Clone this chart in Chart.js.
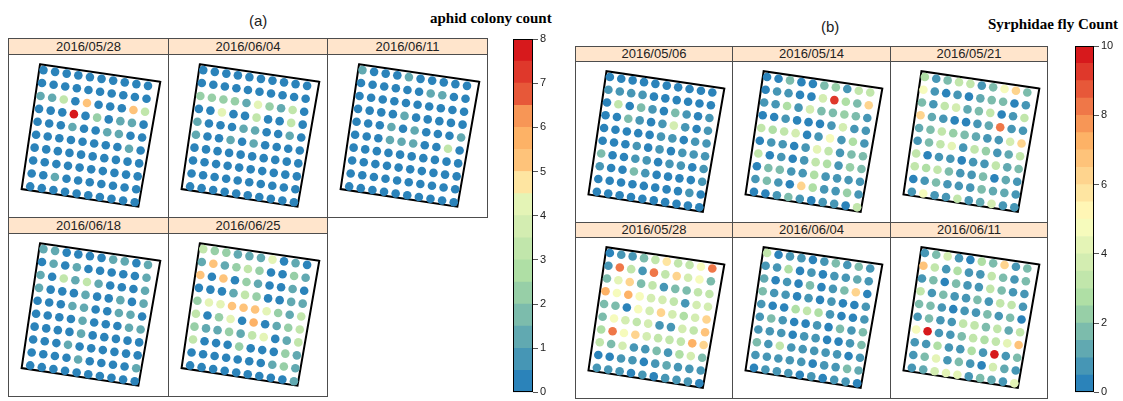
<!DOCTYPE html>
<html>
<head>
<meta charset="utf-8">
<script src="https://cdn.jsdelivr.net/npm/chart.js@4.4.0/dist/chart.umd.min.js"></script>
<style>
  body { margin: 0; background: #fff; width: 1123px; height: 401px; overflow: hidden; position: relative; font-family: "Liberation Sans", Arial, sans-serif; }
  canvas { position: absolute; }
  .box { position: absolute; border: 1px solid #4d4d4d; box-sizing: border-box; pointer-events: none; z-index: 2; }
  .strip { position: absolute; background: #ffe5cc; border: 1px solid #4d4d4d; box-sizing: border-box; text-align: center; font-size: 13px; color: #222; z-index: 3; }
  .title { position: absolute; font-size: 15px; color: #222; white-space: nowrap; }
  .keytitle { position: absolute; font: bold 15px "Liberation Serif", "Times New Roman", serif; color: #000; white-space: nowrap; }
</style>
</head>
<body>
<div class="title" style="left:249px; top:12px;">(a)</div>
<div class="keytitle" style="left:430px; top:10px;">aphid colony count</div>
<div class="title" style="left:821px; top:18px;">(b)</div>
<div class="keytitle" style="left:988px; top:16px;">Syrphidae fly Count</div>

<script>
// ---- data ----
const aphidDates = ["2016/05/28", "2016/06/04", "2016/06/11", "2016/06/18", "2016/06/25"];
const flyDates = ["2016/05/06", "2016/05/14", "2016/05/21", "2016/05/28", "2016/06/04", "2016/06/11"];

const aphidTicks = [0, 1, 2, 3, 4, 5, 6, 7, 8];
const flyTicks = [0, 2, 4, 6, 8, 10];

// rows top to bottom, 10 trap positions per row
const aphid0528 = [
  [0,0,0,0,0,0,0,0,0,0],
  [0,0,0,0,0,0,0,0,0,0],
  [1,1,3,0,5,0,0,0,5,3],
  [0,0,0,8,0,2,0,1,1,0],
  [0,0,0,1,0,0,1,1,0,0],
  [0,0,0,0,0,0,0,0,1,0],
  [0,0,0,0,0,0,0,0,0,0],
  [0,0,0,0,0,0,0,0,0,0],
  [0,0,1,0,0,0,0,0,0,0],
  [0,0,0,0,0,0,0,0,0,0]
];
const aphid0604 = [
  [0,0,0,0,0,0,0,0,0,0],
  [0,0,0,0,0,0,0,0,0,0],
  [2,2,2,2,1,4,2,1,3,0],
  [0,0,4,0,0,3,0,0,3,0],
  [1,0,0,0,1,1,0,0,1,0],
  [1,0,0,1,0,1,0,0,0,0],
  [0,0,0,0,0,0,0,0,0,0],
  [0,0,0,0,0,0,0,0,0,0],
  [0,0,0,0,0,0,0,0,0,0],
  [0,0,0,0,0,0,0,0,0,0]
];
const aphid0611 = [
  [1,0,0,0,1,0,0,0,0,0],
  [0,0,0,0,0,0,1,1,0,0],
  [0,0,0,0,0,0,0,0,0,0],
  [0,0,0,0,1,0,0,0,0,0],
  [0,0,0,1,0,1,0,0,0,1],
  [0,0,0,1,1,1,0,0,3,0],
  [0,0,0,0,0,0,0,0,0,0],
  [0,0,0,0,0,0,0,0,0,0],
  [0,0,0,0,0,0,0,0,0,0],
  [0,0,0,0,0,0,0,0,0,0]
];
const aphid0618 = [
  [1,1,0,0,0,0,1,1,0,1],
  [0,1,0,1,0,0,0,0,0,1],
  [1,0,3,1,3,1,0,0,0,1],
  [1,0,0,0,1,0,0,1,0,1],
  [0,0,0,1,1,0,0,1,1,0],
  [0,0,0,0,1,0,0,0,1,1],
  [0,0,0,0,1,0,0,0,0,0],
  [0,0,0,1,0,0,0,0,0,0],
  [0,0,0,0,1,0,0,0,0,1],
  [0,0,0,0,0,0,0,0,0,0]
];
const aphid0625 = [
  [3,2,2,1,1,1,4,0,1,0],
  [1,5,1,2,3,2,0,0,2,1],
  [5,0,5,0,2,1,0,0,1,0],
  [0,0,0,1,3,2,0,0,1,1],
  [2,4,4,5,5,5,4,2,1,3],
  [3,0,2,4,0,5.5,0,1,2,3],
  [2,1,1,2,1,3,4,0,1,3],
  [3,0,0,0,2,0,0,0,2,1],
  [0,0,0,0,0,0,0,1,2,1],
  [0,0,0,0,0,0,0,0,0,1]
];

const fly0506 = [
  [0,0,0,0,0,0,0,0,0,0],
  [0.5,0.5,0.5,0.5,0,0,0,0,0,0],
  [0,3,0,1.5,0.5,0,1.5,0.5,0,0.5],
  [0,0,1.5,0.5,0,0.5,3.5,0.5,0,0.5],
  [0,0,0,0,0,0.5,0.5,0,0.5,0.5],
  [0,0,0,0.5,0,0.5,0,0.5,0.5,0.5],
  [1.5,0,0,0.5,0.5,0,0.5,0.5,0,0.5],
  [0.5,0,0,1.5,0.5,0,0,0,0,0.5],
  [0,0,0,0,0,0,0,0,0.5,0],
  [0,0,0,0,0,0,0,0,0,0]
];
const fly0514 = [
  [0,0,1.5,0,0,1.5,2,0.5,3,3],
  [0,0.5,0.5,0,0,3.5,9,2.5,1.5,6],
  [0.5,0.5,2.5,0.5,3.5,1.5,1.5,2,1.5,0.5],
  [0,0,0.5,0,0,0,0.5,3.5,0.5,0.5],
  [3,2.5,3,3.5,0,0.5,4.5,0.5,2.5,0.5],
  [0,0.5,0.5,0,0.5,4,3,0.5,1.5,1.5],
  [3,0,0.5,0,0.5,3,2.5,0.5,2,1.5],
  [0,1.5,1.5,0.5,0.5,2.5,0.5,0.5,0.5,0.5],
  [0.5,1.5,0.5,0,6,2.5,0.5,0.5,2,0.5],
  [0,0,0.5,1.5,0.5,0,0.5,0.5,0,3]
];
const fly0521 = [
  [2.5,0.5,1.5,3,3,0.5,1.5,4.5,6,1.5],
  [4.5,0.5,0,0.5,0,1,1.5,1.5,0,0.5],
  [1.5,0.5,3,3.5,1,1.5,3,0,0.5,3],
  [6,1,0.5,0,0,0.5,1,8,0.5,0.5],
  [1,1.5,3,2,1.5,1,0.5,0.5,3.5,6],
  [0.5,1.5,3,4,0.5,3,2,0.5,1,3],
  [3,0,0.5,0.5,0,0.5,0.5,3,1,1.5],
  [3,2.5,3,1.5,0.5,0.5,1.5,0,1,0.5],
  [0,0.5,1.5,0.5,0.5,0.5,1.5,1,1,0.5],
  [0.5,4.5,0.5,0.5,3,0.5,1,3.5,0.5,0.5]
];
const fly0528 = [
  [0,0.5,0.5,1.5,3,5.5,3,3,4.5,8],
  [0.5,8,3,0.5,8,3,6,3.5,4.5,1.5],
  [1.5,4,6,1.5,3,0.5,1.5,1.5,3,3],
  [7,4.5,7,4.5,3.5,3.5,3,0.5,3.5,3.5],
  [1.5,1.5,0,4.5,3.5,6,3.5,2.5,3.5,6],
  [1.5,4.5,3.5,3,3.5,0.5,0.5,3.5,3,6.5],
  [2.5,8,4.5,6,3.5,3,3,3,7,6],
  [3,1.5,3.5,0.5,0.5,1.5,0.5,2.5,3.5,1.5],
  [0,0,0.5,0.5,0,0.5,1,0.5,0.5,0.5],
  [0.5,0.5,0.5,0,0.5,0,0.5,0.5,0.5,0]
];
const fly0604 = [
  [3,0,0.5,0.5,0,0.5,1.5,0.5,1.5,0.5],
  [0.5,0.5,2.5,0,0.5,0,0.5,0.5,1,0.5],
  [1,0,0.5,0,1.5,0,0.5,1.5,6,0],
  [1.5,0.5,0.5,0,0.5,0,0.5,0,0,0.5],
  [0.5,0,0,2.5,3,2.5,0.5,0,0,0.5],
  [0.5,1.5,0.5,0,0,0.5,0,1.5,0.5,1.5],
  [0.5,0.5,0.5,0,0.5,0.5,0,0,0.5,1.5],
  [1.5,0.5,3,0.5,0.5,0.5,0.5,0.5,0,0.5],
  [0.5,0.5,0.5,0.5,0.5,0,0.5,0.5,1.5,1],
  [0,0.5,0.5,0.5,0,0.5,0,0.5,0.5,0]
];
const fly0611 = [
  [0.5,1.5,3.5,0.5,0,2.5,1.5,6,0.5,1.5],
  [6.5,3,0.5,2.5,0.5,0.5,3,1.5,0.5,1.5],
  [0.5,1.5,0,1.5,0.5,0.5,3,1.5,0.5,0.5],
  [3,0.5,1.5,0.5,0.5,1.5,0.5,3,3,0.5],
  [1.5,1.5,0.5,0,0.5,0.5,1.5,0.5,1.5,0],
  [0.5,1.5,0.5,0.5,3,3,1.5,3,1,3],
  [4.5,9.5,0.5,0.5,1.5,3,2.5,3,4,6.5],
  [0.5,0.5,2.5,0.5,0.5,2.5,0.5,9.5,0.5,1.5],
  [0.5,1.5,4,0.5,1.5,0.5,0,3.5,1,0.5],
  [0.5,1,3.5,4,4,0.5,1.5,1,0.5,4]
];

// field outline, in trap-grid units (column, row)
const fieldCorners = [[-0.35, -0.4], [10.0, -0.45], [9.35, 9.3], [-0.7, 9.3]];

// ---- helpers ----
const spectral = ["#2b83ba", "#abdda4", "#ffffbf", "#fdae61", "#d7191c"];

function ramp(n) {
  const rgb = spectral.map(h => [1, 3, 5].map(i => parseInt(h.substr(i, 2), 16)));
  const out = [];
  for (let i = 0; i < n; i++) {
    const t = i / (n - 1) * (rgb.length - 1);
    const k = Math.min(Math.floor(t), rgb.length - 2);
    const f = t - k;
    const c = rgb[k].map((a, j) => Math.round(a + (rgb[k + 1][j] - a) * f));
    out.push(`rgb(${c[0]},${c[1]},${c[2]})`);
  }
  return out;
}

// grid (column, row) -> panel units; the field is tilted a little
const GRID = { x0: 31.7, y0: 11.4, ux: 12.2, uy: 1.85, vx: -1.55, vy: 13.65 };
const SPAN_X = 158, SPAN_Y = 162;

function gridToXY(c, r) {
  return { x: GRID.x0 + c * GRID.ux + r * GRID.vx, y: GRID.y0 + c * GRID.uy + r * GRID.vy };
}

Chart.defaults.font.family = '"Liberation Sans", Arial, sans-serif';

function panelChart(canvas, values, colors, maxVal) {
  const step = maxVal / colors.length;
  const pts = [];
  const cols = [];
  values.forEach((row, r) => row.forEach((v, c) => {
    pts.push(gridToXY(c, r));
    cols.push(colors[Math.min(colors.length - 1, Math.floor(v / step + 1e-9))]);
  }));
  const outline = fieldCorners.map(([c, r]) => gridToXY(c, r));
  outline.push(outline[0], outline[1]);

  new Chart(canvas, {
    type: "scatter",
    data: {
      datasets: [
        { data: pts, backgroundColor: cols, borderWidth: 0, pointRadius: 4.3, pointHoverRadius: 4.3 },
        { data: outline, showLine: true, borderColor: "#000", borderWidth: 2, pointRadius: 0, fill: false, borderJoinStyle: "miter" }
      ]
    },
    options: {
      responsive: false,
      animation: false,
      events: [],
      layout: { padding: 0 },
      plugins: { legend: { display: false }, tooltip: { enabled: false } },
      scales: {
        x: { type: "linear", min: 0, max: SPAN_X, display: false },
        y: { type: "linear", min: 0, max: SPAN_Y, reverse: true, display: false }
      }
    }
  });
}

const outlinePlugin = {
  id: "outline",
  afterDraw(chart) {
    const a = chart.chartArea;
    const ctx = chart.ctx;
    ctx.save();
    ctx.strokeStyle = "#000";
    ctx.lineWidth = 1;
    ctx.strokeRect(Math.round(a.left) + 0.5, Math.round(a.top) + 0.5, Math.round(a.right - a.left) - 1, Math.round(a.bottom - a.top) - 1);
    ctx.restore();
  }
};

function colorKey(pos, colors, maxVal, tickVals) {
  const cv = document.createElement("canvas");
  cv.width = pos.w; cv.height = pos.h;
  cv.style.left = pos.left + "px"; cv.style.top = pos.top + "px";
  document.body.appendChild(cv);
  const band = maxVal / colors.length;
  new Chart(cv, {
    type: "bar",
    data: {
      labels: [""],
      datasets: colors.map(col => ({ data: [band], backgroundColor: col, borderWidth: 0, barPercentage: 1, categoryPercentage: 1 }))
    },
    options: {
      responsive: false,
      animation: false,
      events: [],
      layout: { padding: { top: pos.padTop, bottom: pos.padBottom, left: 0, right: 0 } },
      plugins: { legend: { display: false }, tooltip: { enabled: false } },
      scales: {
        x: { stacked: true, display: false },
        y: {
          stacked: true, min: 0, max: maxVal, position: "right",
          afterBuildTicks: s => { s.ticks = tickVals.map(v => ({ value: v })); },
          afterFit: s => { s.width = pos.axisW; },
          ticks: { color: "#222", font: { size: 11 }, padding: 2 },
          grid: { drawOnChartArea: false, drawTicks: true, tickLength: 5, color: "#555" },
          border: { display: false }
        }
      }
    },
    plugins: [outlinePlugin]
  });
}

function lattice(lay, dates, panels, colors, maxVal) {
  dates.forEach((d, k) => {
    const col = k % lay.cols;
    const row = Math.floor(k / lay.cols);
    const x = Math.round(lay.left + col * lay.colW);
    const x2 = Math.round(lay.left + (col + 1) * lay.colW);
    const y = lay.top + row * (lay.stripH + lay.plotH);

    const box = document.createElement("div");
    box.className = "box";
    Object.assign(box.style, { left: x + "px", top: y + "px", width: (x2 - x + 1) + "px", height: (lay.stripH + lay.plotH + 1) + "px" });
    document.body.appendChild(box);

    const strip = document.createElement("div");
    strip.className = "strip";
    Object.assign(strip.style, { left: x + "px", top: y + "px", width: (x2 - x + 1) + "px", height: (lay.stripH + 1) + "px", lineHeight: (lay.stripH - 1) + "px" });
    strip.textContent = d;
    document.body.appendChild(strip);

    const cv = document.createElement("canvas");
    cv.width = x2 - x - 1;
    cv.height = lay.plotH - 1;
    cv.style.left = (x + 1) + "px";
    cv.style.top = (y + lay.stripH + 1) + "px";
    document.body.appendChild(cv);
    panelChart(cv, panels[k], colors, maxVal);
  });
}

// 20-step Spectral ramp; the aphid key (16 classes) uses a subset of it
const flyColors = ramp(20);
const aphidPick = [0, 1, 2, 3, 4, 5, 6, 7, 8, 11, 13, 14, 15, 17, 18, 19];
const aphidColors = aphidPick.map(i => flyColors[i]);

lattice({ left: 8, top: 38, colW: 159.5, stripH: 16, plotH: 163, cols: 3 },
  aphidDates, [aphid0528, aphid0604, aphid0611, aphid0618, aphid0625], aphidColors, 8);
lattice({ left: 575, top: 46, colW: 157.4, stripH: 15, plotH: 161, cols: 3 },
  flyDates, [fly0506, fly0514, fly0521, fly0528, fly0604, fly0611], flyColors, 10);

colorKey({ left: 513, top: 30, w: 46, h: 371, padTop: 9, padBottom: 4, axisW: 26 }, aphidColors, 8, aphidTicks);
colorKey({ left: 1075, top: 36, w: 46, h: 365, padTop: 10, padBottom: 3, axisW: 27 }, flyColors, 10, flyTicks);
</script>
</body>
</html>
